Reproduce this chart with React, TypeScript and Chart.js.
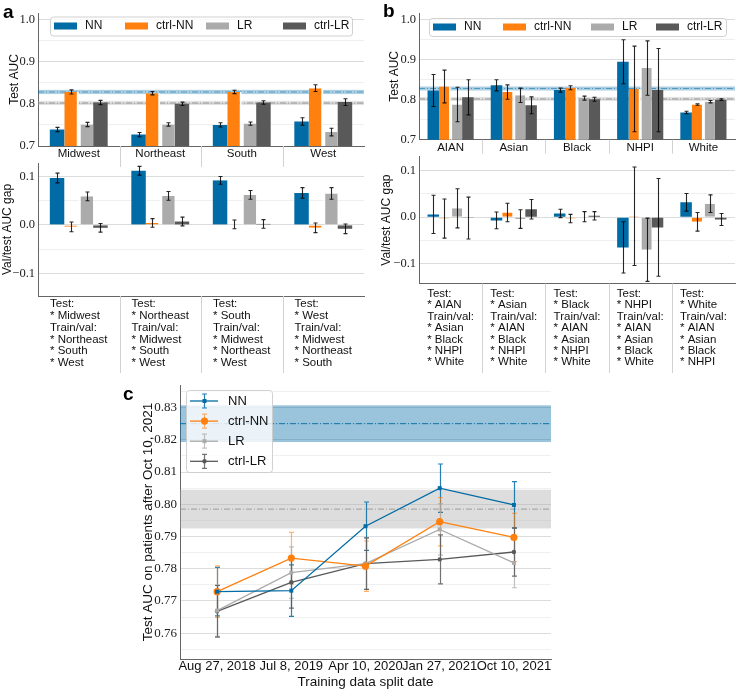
import React, { useEffect, useRef } from "react";
import { Chart, registerables } from "chart.js";

Chart.register(...registerables);

// ---------------- data ----------------
const SERIES = ["NN", "ctrl-NN", "LR", "ctrl-LR"];
const SERIES_COLORS = ["#006BA4", "#FF800E", "#ABABAB", "#595959"];

// Panel a: geographic splits
const REGIONS = ["Midwest", "Northeast", "South", "West"];
const A_TEST_NN = [0.739, 0.727, 0.75, 0.758];
const A_TEST_CTRL_NN = [0.828, 0.825, 0.828, 0.837];
const A_TEST_LR = [0.751, 0.751, 0.753, 0.733];
const A_TEST_CTRL_LR = [0.803, 0.8, 0.803, 0.804];
const A_TEST_NN_ERR = [0.005, 0.005, 0.005, 0.009];
const A_TEST_CTRL_NN_ERR = [0.005, 0.004, 0.004, 0.008];
const A_TEST_LR_ERR = [0.005, 0.004, 0.004, 0.009];
const A_TEST_CTRL_LR_ERR = [0.005, 0.004, 0.004, 0.008];

const A_GAP_NN = [0.097, 0.112, 0.092, 0.066];
const A_GAP_CTRL_NN = [-0.004, 0.004, 0.001, -0.006];
const A_GAP_LR = [0.059, 0.06, 0.062, 0.065];
const A_GAP_CTRL_LR = [-0.006, 0.007, 0.002, -0.008];
const A_GAP_NN_ERR = [0.01, 0.009, 0.008, 0.011];
const A_GAP_CTRL_NN_ERR = [0.01, 0.009, 0.009, 0.01];
const A_GAP_LR_ERR = [0.009, 0.009, 0.009, 0.012];
const A_GAP_CTRL_LR_ERR = [0.009, 0.009, 0.009, 0.01];

const A_SPLIT_TEXT = [
  ["Test:", "* Midwest", "Train/val:", "* Northeast", "* South", "* West"],
  ["Test:", "* Northeast", "Train/val:", "* Midwest", "* South", "* West"],
  ["Test:", "* South", "Train/val:", "* Midwest", "* Northeast", "* West"],
  ["Test:", "* West", "Train/val:", "* Midwest", "* Northeast", "* South"],
];

// Panel b: race splits
const GROUPS = ["AIAN", "Asian", "Black", "NHPI", "White"];
const B_TEST_NN = [0.823, 0.836, 0.824, 0.895, 0.768];
const B_TEST_CTRL_NN = [0.833, 0.819, 0.83, 0.827, 0.788];
const B_TEST_LR = [0.788, 0.811, 0.804, 0.879, 0.795];
const B_TEST_CTRL_LR = [0.806, 0.786, 0.801, 0.824, 0.8];
const B_TEST_NN_ERR = [0.04, 0.014, 0.005, 0.055, 0.003];
const B_TEST_CTRL_NN_ERR = [0.041, 0.018, 0.005, 0.107, 0.002];
const B_TEST_LR_ERR = [0.043, 0.018, 0.005, 0.068, 0.003];
const B_TEST_CTRL_LR_ERR = [0.044, 0.021, 0.005, 0.104, 0.002];

const B_GAP_NN = [0.006, -0.007, 0.008, -0.065, 0.032];
const B_GAP_CTRL_NN = [-0.003, 0.01, -0.003, 0.002, -0.01];
const B_GAP_LR = [0.019, -0.004, 0.001, -0.07, 0.029];
const B_GAP_CTRL_LR = [-0.002, 0.017, 0.003, -0.022, -0.005];
const B_GAP_NN_ERR = [0.041, 0.018, 0.009, 0.055, 0.019];
const B_GAP_CTRL_NN_ERR = [0.042, 0.02, 0.009, 0.106, 0.02];
const B_GAP_LR_ERR = [0.042, 0.02, 0.011, 0.068, 0.019];
const B_GAP_CTRL_LR_ERR = [0.045, 0.021, 0.009, 0.105, 0.013];

const B_SPLIT_TEXT = [
  ["Test:", "* AIAN", "Train/val:", "* Asian", "* Black", "* NHPI", "* White"],
  ["Test:", "* Asian", "Train/val:", "* AIAN", "* Black", "* NHPI", "* White"],
  ["Test:", "* Black", "Train/val:", "* AIAN", "* Asian", "* NHPI", "* White"],
  ["Test:", "* NHPI", "Train/val:", "* AIAN", "* Asian", "* Black", "* White"],
  ["Test:", "* White", "Train/val:", "* AIAN", "* Asian", "* Black", "* NHPI"],
];

// reference (in-distribution) performance bands for a and b
const AB_NN_REF = 0.828;
const AB_NN_REF_HALF = 0.005;
const AB_LR_REF = 0.802;
const AB_LR_REF_HALF = 0.005;

// Panel c: temporal splits
const SPLIT_DATES = ["Aug 27, 2018", "Jul 8, 2019", "Apr 10, 2020", "Jan 27, 2021", "Oct 10, 2021"];
const C_NN = [0.7729, 0.7732, 0.7932, 0.805, 0.7998];
const C_CTRL_NN = [0.7729, 0.7833, 0.7808, 0.7946, 0.7897];
const C_LR = [0.767, 0.7788, 0.7816, 0.7922, 0.7818];
const C_CTRL_LR = [0.7668, 0.7758, 0.7816, 0.7829, 0.7852];
const C_NN_ERR = [0.0075, 0.008, 0.0075, 0.0075, 0.0072];
const C_CTRL_NN_ERR = [0.008, 0.008, 0.0078, 0.0075, 0.0075];
const C_LR_ERR = [0.008, 0.008, 0.008, 0.008, 0.0077];
const C_CTRL_LR_ERR = [0.008, 0.008, 0.008, 0.0076, 0.0075];
const C_NN_REF = 0.825;
const C_NN_REF_HALF = 0.0057;
const C_LR_REF = 0.7985;
const C_LR_REF_HALF = 0.006;

// tick values
const A_TEST_TICKS = [0.7, 0.75, 0.8, 0.85, 0.9, 0.95, 1.0];
const GAP_TICKS = [-0.1, -0.05, 0, 0.05, 0.1];
const C_TICKS = [0.755, 0.76, 0.765, 0.77, 0.775, 0.78, 0.785, 0.79, 0.795, 0.8, 0.805, 0.81, 0.815, 0.82, 0.825, 0.83, 0.835];

// ---------------- helpers ----------------
const SANS = "'Liberation Sans', Arial, sans-serif";
const SERIF = "'Liberation Serif', 'Times New Roman', serif";

const isMultiple = (v: number, step: number) => Math.abs(v / step - Math.round(v / step)) < 1e-6;
const fmtTick = (decimals: number, step: number) => (v: number) => {
  if (!isMultiple(v, step)) return "";
  const s = Math.abs(v).toFixed(decimals);
  return (v < -1e-9 ? "\u2212" : "") + s;
};

function roundRectPath(ctx: CanvasRenderingContext2D, x: number, y: number, w: number, h: number, r: number) {
  ctx.beginPath();
  ctx.moveTo(x + r, y);
  ctx.lineTo(x + w - r, y);
  ctx.arcTo(x + w, y, x + w, y + r, r);
  ctx.lineTo(x + w, y + h - r);
  ctx.arcTo(x + w, y + h, x + w - r, y + h, r);
  ctx.lineTo(x + r, y + h);
  ctx.arcTo(x, y + h, x, y + h - r, r);
  ctx.lineTo(x, y + r);
  ctx.arcTo(x, y, x + r, y, r);
  ctx.closePath();
}

function drawErrors(chart: any, o: any) {
  const { ctx, chartArea: ca } = chart;
  const y = chart.scales.y;
  ctx.save();
  ctx.beginPath();
  ctx.rect(ca.left, ca.top, ca.right - ca.left, ca.bottom - ca.top);
  ctx.clip();
  chart.data.datasets.forEach((ds: any, i: number) => {
    if (!ds.errors) return;
    const meta = chart.getDatasetMeta(i);
    ctx.strokeStyle = ds.errorColor || o.color;
    ctx.lineWidth = o.lineWidth;
    meta.data.forEach((el: any, j: number) => {
      const v = ds.data[j];
      const e = ds.errors[j];
      const x = Math.round(el.x + (ds.errorShift || 0)) + 0.5;
      const yt = y.getPixelForValue(v + e);
      const yb = y.getPixelForValue(v - e);
      ctx.beginPath();
      ctx.moveTo(x, yt);
      ctx.lineTo(x, yb);
      ctx.moveTo(x - o.cap, yt);
      ctx.lineTo(x + o.cap, yt);
      ctx.moveTo(x - o.cap, yb);
      ctx.lineTo(x + o.cap, yb);
      ctx.stroke();
    });
  });
  ctx.restore();
}

const errorBarPlugin = {
  id: "errorBars",
  beforeDatasetsDraw(chart: any, _a: any, o: any) {
    if (o && o.layer === "before") drawErrors(chart, o);
  },
  afterDatasetsDraw(chart: any, _a: any, o: any) {
    if (o && o.layer !== "before") drawErrors(chart, o);
  },
};

const refBandsPlugin = {
  id: "refBands",
  beforeDatasetsDraw(chart: any, _a: any, o: any) {
    if (!o || !o.bands) return;
    const { ctx, chartArea: ca } = chart;
    const y = chart.scales.y;
    ctx.save();
    for (const b of o.bands) {
      const t = y.getPixelForValue(b.value + b.half);
      const bt = y.getPixelForValue(b.value - b.half);
      ctx.fillStyle = b.fill;
      ctx.fillRect(ca.left, t, ca.right - ca.left, bt - t);
      const py = y.getPixelForValue(b.value);
      ctx.strokeStyle = b.line;
      ctx.lineWidth = b.lineWidth || 1;
      ctx.setLineDash(b.dash || [6, 2, 1, 2]);
      ctx.beginPath();
      ctx.moveTo(ca.left, py);
      ctx.lineTo(ca.right, py);
      ctx.stroke();
      ctx.setLineDash([]);
    }
    ctx.restore();
  },
};

const catTextPlugin = {
  id: "catText",
  afterDraw(chart: any, _a: any, o: any) {
    if (!o) return;
    const { ctx, chartArea: ca } = chart;
    const x = chart.scales.x;
    const n = chart.data.labels.length;
    ctx.save();
    ctx.strokeStyle = o.sepColor || "#d2d2d2";
    ctx.lineWidth = 1;
    for (let i = 1; i < n; i++) {
      const px = Math.round((x.getPixelForValue(i - 1) + x.getPixelForValue(i)) / 2) + 0.5;
      ctx.beginPath();
      ctx.moveTo(px, ca.bottom);
      ctx.lineTo(px, ca.bottom + o.sepLength);
      ctx.stroke();
    }
    if (o.blocks) {
      ctx.font = o.font;
      ctx.fillStyle = "#111";
      ctx.textBaseline = "middle";
      ctx.textAlign = "left";
      o.blocks.forEach((lines: string[], i: number) => {
        const cx = x.getPixelForValue(i);
        const w = Math.max(...lines.map((l) => ctx.measureText(l).width));
        lines.forEach((l, k) => ctx.fillText(l, cx - w / 2, ca.bottom + o.first + k * o.step));
      });
    }
    ctx.restore();
  },
};

function drawMarker(ctx: CanvasRenderingContext2D, style: string, x: number, y: number, r: number, color: string) {
  ctx.fillStyle = color;
  ctx.beginPath();
  if (style === "circle") {
    ctx.arc(x, y, r, 0, Math.PI * 2);
  } else {
    const s = Math.SQRT1_2 * r;
    ctx.rect(x - s, y - s, 2 * s, 2 * s);
  }
  ctx.fill();
}

const boxLegendPlugin = {
  id: "boxLegend",
  afterDraw(chart: any, _a: any, o: any) {
    if (!o || !o.show) return;
    const { ctx, chartArea: ca } = chart;
    const bx = ca.left + o.x;
    const by = ca.top + o.y;
    ctx.save();
    roundRectPath(ctx, bx + 0.5, by + 0.5, o.w, o.h, 3);
    ctx.fillStyle = "rgba(255,255,255,0.8)";
    ctx.fill();
    ctx.strokeStyle = "rgba(204,204,204,0.9)";
    ctx.lineWidth = 1;
    ctx.stroke();
    ctx.font = o.font;
    ctx.textBaseline = "middle";
    ctx.textAlign = "left";
    chart.data.datasets.forEach((ds: any, i: number) => {
      if (o.mode === "row") {
        const ix = bx + o.itemX[i];
        const cy = by + o.h / 2;
        ctx.fillStyle = ds.backgroundColor;
        ctx.fillRect(ix, cy - o.patchH / 2, o.patchW, o.patchH);
        ctx.fillStyle = "#111";
        ctx.fillText(ds.label, ix + o.patchW + o.textGap, cy);
      } else {
        const cy = by + o.rowStart + i * o.rowStep;
        const x0 = bx + o.lineX0;
        const x1 = bx + o.lineX1;
        const xm = Math.round((x0 + x1) / 2) + 0.5;
        ctx.strokeStyle = ds.errorColor || ds.borderColor;
        ctx.lineWidth = 1.2;
        ctx.beginPath();
        ctx.moveTo(xm, cy - 7);
        ctx.lineTo(xm, cy + 7);
        ctx.moveTo(xm - 2.5, cy - 7);
        ctx.lineTo(xm + 2.5, cy - 7);
        ctx.moveTo(xm - 2.5, cy + 7);
        ctx.lineTo(xm + 2.5, cy + 7);
        ctx.stroke();
        ctx.strokeStyle = ds.borderColor;
        ctx.lineWidth = ds.borderWidth;
        ctx.beginPath();
        ctx.moveTo(x0, cy);
        ctx.lineTo(x1, cy);
        ctx.stroke();
        drawMarker(ctx, ds.pointStyle, xm, cy, ds.pointRadius, ds.borderColor);
        ctx.fillStyle = "#111";
        ctx.fillText(ds.label, bx + o.textX, cy);
      }
    });
    ctx.restore();
  },
};

// ---------------- chart configs ----------------
function barConfig(p: any) {
  const gapShift = p.pairGap / 2;
  const datasets = SERIES.map((s, i) => ({
    label: s,
    data: p.values[i],
    errors: p.errors[i],
    errorShift: i === 1 ? -gapShift : i === 2 ? gapShift : 0,
    backgroundColor: SERIES_COLORS[i],
    borderColor: "#ffffff",
    borderWidth:
      i === 1
        ? { top: 0, right: p.pairGap, bottom: 0, left: 0 }
        : i === 2
        ? { top: 0, right: 0, bottom: 0, left: p.pairGap }
        : 0,
    borderSkipped: false,
    categoryPercentage: p.catPct,
    barPercentage: 1,
  }));
  return {
    type: "bar",
    data: { labels: p.labels, datasets },
    options: {
      responsive: false,
      animation: false,
      layout: { padding: p.padding },
      plugins: {
        legend: { display: false },
        tooltip: { enabled: false },
        refBands: { bands: p.bands },
        errorBars: { layer: "after", color: "rgba(0,0,0,0.85)", lineWidth: 1.1, cap: 2 },
        boxLegend: p.legend || { show: false },
        catText: {
          sepLength: p.sepLength,
          blocks: p.textBlocks,
          font: `11.5px ${SANS}`,
          first: p.textFirst,
          step: p.textStep,
        },
      },
      scales: {
        x: {
          type: "category",
          offset: true,
          grid: { display: false, drawTicks: false },
          border: { display: true, color: "#666", width: 1 },
          ticks: {
            display: p.showXLabels,
            font: { family: SANS, size: 11.5 },
            color: "#111",
            padding: p.xLabelPad,
            maxRotation: 0,
            autoSkip: false,
          },
          afterFit: (s: any) => {
            s.height = p.xHeight;
          },
        },
        y: {
          min: p.yMin,
          max: p.yMax,
          afterBuildTicks: (s: any) => {
            s.ticks = p.yTicks.map((value: number) => ({ value }));
          },
          afterFit: (s: any) => {
            s.width = p.yWidth;
          },
          grid: {
            drawTicks: false,
            color: (c: any) => (c.tick && isMultiple(c.tick.value, 0.1) ? "#dcdcdc" : "#efefef"),
          },
          border: { display: true, color: "#666", width: 1 },
          ticks: {
            callback: fmtTick(1, 0.1),
            font: { family: SERIF, size: 12.5 },
            color: "#222",
            padding: 3,
            autoSkip: false,
          },
          title: {
            display: true,
            text: p.yTitle,
            font: { family: SANS, size: 12 },
            color: "#111",
            padding: { top: p.yTitlePad, bottom: 0 },
          },
        },
      },
    },
    plugins: [refBandsPlugin, errorBarPlugin, catTextPlugin, boxLegendPlugin],
  };
}

const AB_BANDS = [
  { value: AB_NN_REF, half: AB_NN_REF_HALF, fill: "rgba(0,107,164,0.32)", line: "rgba(0,107,164,0.55)" },
  { value: AB_LR_REF, half: AB_LR_REF_HALF, fill: "rgba(171,171,171,0.35)", line: "rgba(140,140,140,0.8)" },
];

const aTopConfig = () =>
  barConfig({
    labels: REGIONS,
    values: [A_TEST_NN, A_TEST_CTRL_NN, A_TEST_LR, A_TEST_CTRL_LR],
    errors: [A_TEST_NN_ERR, A_TEST_CTRL_NN_ERR, A_TEST_LR_ERR, A_TEST_CTRL_LR_ERR],
    yMin: 0.7,
    yMax: 1.015,
    yTicks: A_TEST_TICKS,
    yTitle: "Test AUC",
    yTitlePad: 7.8,
    yWidth: 38,
    xHeight: 24,
    padding: { top: 13, right: 6, bottom: 0, left: 0 },
    showXLabels: true,
    xLabelPad: 0.5,
    catPct: 0.71,
    pairGap: 2,
    bands: AB_BANDS,
    sepLength: 21,
    legend: {
      show: true,
      mode: "row",
      x: 12,
      y: 3.5,
      w: 302,
      h: 19,
      itemX: [4, 75, 156, 233],
      patchW: 23,
      patchH: 7,
      textGap: 8,
      font: `12px ${SANS}`,
    },
  });

const aBottomConfig = () =>
  barConfig({
    labels: REGIONS,
    values: [A_GAP_NN, A_GAP_CTRL_NN, A_GAP_LR, A_GAP_CTRL_LR],
    errors: [A_GAP_NN_ERR, A_GAP_CTRL_NN_ERR, A_GAP_LR_ERR, A_GAP_CTRL_LR_ERR],
    yMin: -0.147,
    yMax: 0.128,
    yTicks: GAP_TICKS,
    yTitle: "Val/test AUC gap",
    yTitlePad: 0,
    yWidth: 38,
    xHeight: 82,
    padding: { top: 13, right: 6, bottom: 0, left: 0 },
    showXLabels: false,
    xLabelPad: 0,
    catPct: 0.71,
    pairGap: 2,
    sepLength: 77,
    textBlocks: A_SPLIT_TEXT,
    textFirst: 8,
    textStep: 11.8,
  });

const bTopConfig = () =>
  barConfig({
    labels: GROUPS,
    values: [B_TEST_NN, B_TEST_CTRL_NN, B_TEST_LR, B_TEST_CTRL_LR],
    errors: [B_TEST_NN_ERR, B_TEST_CTRL_NN_ERR, B_TEST_LR_ERR, B_TEST_CTRL_LR_ERR],
    yMin: 0.7,
    yMax: 1.0167,
    yTicks: A_TEST_TICKS,
    yTitle: "Test AUC",
    yTitlePad: 17.8,
    yWidth: 49,
    xHeight: 30.3,
    padding: { top: 13, right: 3, bottom: 0, left: 0 },
    showXLabels: true,
    xLabelPad: 1,
    catPct: 0.73,
    pairGap: 1.5,
    bands: AB_BANDS,
    sepLength: 14,
    legend: {
      show: true,
      mode: "row",
      x: 10,
      y: 5,
      w: 297,
      h: 18,
      itemX: [4, 74, 162, 227],
      patchW: 23,
      patchH: 7,
      textGap: 8,
      font: `12px ${SANS}`,
    },
  });

const bBottomConfig = () =>
  barConfig({
    labels: GROUPS,
    values: [B_GAP_NN, B_GAP_CTRL_NN, B_GAP_LR, B_GAP_CTRL_LR],
    errors: [B_GAP_NN_ERR, B_GAP_CTRL_NN_ERR, B_GAP_LR_ERR, B_GAP_CTRL_LR_ERR],
    yMin: -0.1426,
    yMax: 0.13,
    yTicks: GAP_TICKS,
    yTitle: "Val/test AUC gap",
    yTitlePad: 9.5,
    yWidth: 49,
    xHeight: 89.5,
    padding: { top: 11.7, right: 3, bottom: 0, left: 0 },
    showXLabels: false,
    xLabelPad: 0,
    catPct: 0.73,
    pairGap: 1.5,
    sepLength: 90,
    textBlocks: B_SPLIT_TEXT,
    textFirst: 10.3,
    textStep: 11.4,
  });

const C_STYLES = [
  { pointStyle: "rect", pointRadius: 2.8, errorColor: "rgba(0,107,164,0.85)" },
  { pointStyle: "circle", pointRadius: 3.6, errorColor: "rgba(255,128,14,0.6)" },
  { pointStyle: "rect", pointRadius: 2.8, errorColor: "rgba(171,171,171,0.75)" },
  { pointStyle: "circle", pointRadius: 2.2, errorColor: "rgba(89,89,89,0.85)" },
];

const cConfig = () => {
  const values = [C_NN, C_CTRL_NN, C_LR, C_CTRL_LR];
  const errors = [C_NN_ERR, C_CTRL_NN_ERR, C_LR_ERR, C_CTRL_LR_ERR];
  const datasets = SERIES.map((s, i) => ({
    label: s,
    data: values[i],
    errors: errors[i],
    errorColor: C_STYLES[i].errorColor,
    borderColor: SERIES_COLORS[i],
    backgroundColor: SERIES_COLORS[i],
    pointBackgroundColor: SERIES_COLORS[i],
    pointBorderColor: SERIES_COLORS[i],
    pointBorderWidth: 0,
    pointStyle: C_STYLES[i].pointStyle,
    pointRadius: C_STYLES[i].pointRadius,
    borderWidth: 1.3,
    tension: 0,
    fill: false,
    order: i,
  }));
  return {
    type: "line",
    data: { labels: SPLIT_DATES, datasets },
    options: {
      responsive: false,
      animation: false,
      layout: { padding: { top: 15, right: 9, bottom: 0, left: 0 } },
      plugins: {
        legend: { display: false },
        tooltip: { enabled: false },
        refBands: {
          bands: [
            { value: C_NN_REF, half: C_NN_REF_HALF, fill: "rgba(0,107,164,0.4)", line: "rgba(0,107,164,0.9)" },
            { value: C_LR_REF, half: C_LR_REF_HALF, fill: "rgba(171,171,171,0.4)", line: "rgba(150,150,150,0.9)" },
          ],
        },
        errorBars: { layer: "before", color: "#333", lineWidth: 1.2, cap: 2.5 },
        boxLegend: {
          show: true,
          mode: "column",
          x: 6,
          y: 5,
          w: 86,
          h: 82,
          rowStart: 11,
          rowStep: 20.1,
          lineX0: 4,
          lineX1: 32,
          textX: 42,
          font: `13px ${SANS}`,
        },
      },
      scales: {
        x: {
          type: "category",
          offset: true,
          grid: { display: false, drawTicks: false },
          border: { display: true, color: "#666", width: 1 },
          ticks: {
            font: { family: SANS, size: 13 },
            color: "#111",
            padding: 0,
            maxRotation: 0,
            minRotation: 0,
            autoSkip: false,
          },
          title: {
            display: true,
            text: "Training data split date",
            font: { family: SANS, size: 13.5 },
            color: "#111",
            padding: { top: 0, bottom: 0 },
          },
          afterFit: (s: any) => {
            s.height = 31;
          },
        },
        y: {
          min: 0.752,
          max: 0.837,
          afterBuildTicks: (s: any) => {
            s.ticks = C_TICKS.map((value) => ({ value }));
          },
          afterFit: (s: any) => {
            s.width = 50;
          },
          grid: {
            drawTicks: false,
            color: (c: any) => (c.tick && isMultiple(c.tick.value, 0.01) ? "#dcdcdc" : "#f0f0f0"),
          },
          border: { display: true, color: "#666", width: 1 },
          ticks: {
            callback: fmtTick(2, 0.01),
            font: { family: SERIF, size: 13 },
            color: "#222",
            padding: 3,
            autoSkip: false,
          },
          title: {
            display: true,
            text: "Test AUC on patients after Oct 10, 2021",
            font: { family: SANS, size: 13.5 },
            color: "#111",
            padding: { top: 9.9, bottom: 0 },
          },
        },
      },
    },
    plugins: [refBandsPlugin, errorBarPlugin, boxLegendPlugin],
  };
};

// ---------------- components ----------------
function ChartBox({ left, top, width, height, make }: any) {
  const ref = useRef<HTMLCanvasElement>(null);
  useEffect(() => {
    const chart = new Chart(ref.current as HTMLCanvasElement, make());
    return () => chart.destroy();
  }, []);
  return (
    <canvas
      ref={ref}
      width={width}
      height={height}
      style={{ position: "absolute", left, top, width, height }}
    />
  );
}

const panelLabel = (text: string, left: number, top: number) => (
  <div
    style={{
      position: "absolute",
      left,
      top,
      fontFamily: SANS,
      fontWeight: 700,
      fontSize: 19,
      lineHeight: "19px",
      color: "#000",
    }}
  >
    {text}
  </div>
);

export default function App() {
  return (
    <div
      style={{
        position: "fixed",
        left: 0,
        top: 0,
        width: 738,
        height: 690,
        background: "#fff",
        overflow: "hidden",
      }}
    >
      <ChartBox left={0} top={150} width={370} height={228} make={aBottomConfig} />
      <ChartBox left={0} top={0} width={370} height={170} make={aTopConfig} />
      <ChartBox left={370} top={145} width={368} height={228} make={bBottomConfig} />
      <ChartBox left={370} top={0} width={368} height={170} make={bTopConfig} />
      <ChartBox left={130} top={370} width={430} height={320} make={cConfig} />
      {panelLabel("a", 3, 2)}
      {panelLabel("b", 383, 1)}
      {panelLabel("c", 123, 384)}
    </div>
  );
}
